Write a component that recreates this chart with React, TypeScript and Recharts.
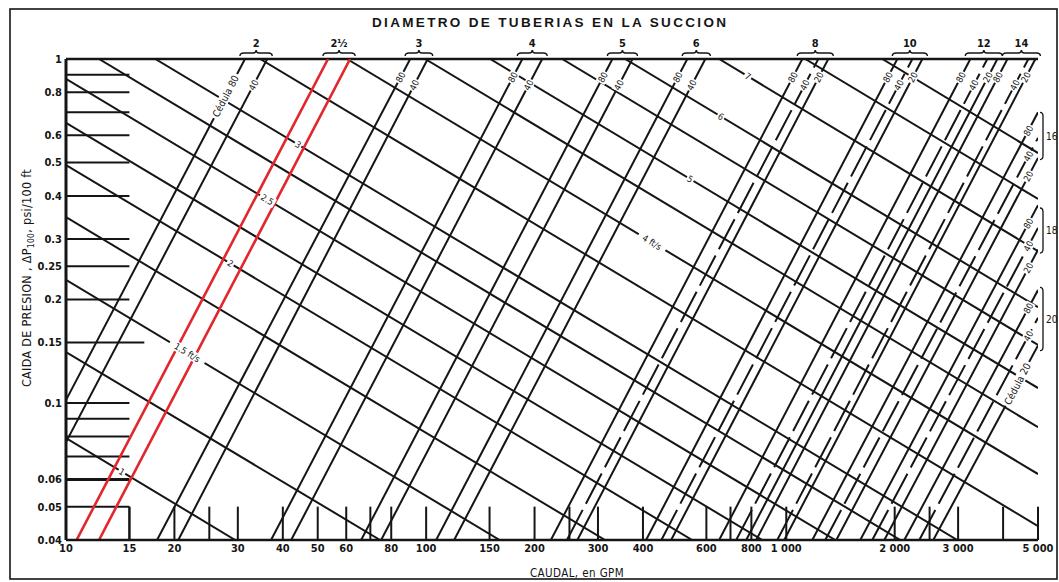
import { ComposedChart, Line, XAxis, YAxis, ReferenceLine, ReferenceDot } from 'recharts'

const ink = '#151515'
const red = '#e2262c'
const cond = "'DejaVu Sans Condensed', 'Liberation Sans Narrow', sans-serif"

const flowTicks = [10, 15, 20, 30, 40, 50, 60, 80, 100, 150, 200, 300, 400, 600, 800, 1000, 2000, 3000, 5000]
const dropTicks = [0.04, 0.05, 0.06, 0.1, 0.15, 0.2, 0.25, 0.3, 0.4, 0.5, 0.6, 0.8, 1]
const rowMarks = [0.9, 0.8, 0.7, 0.6, 0.5, 0.4, 0.3, 0.25, 0.2, 0.15, 0.1, 0.09, 0.08, 0.07, 0.06, 0.05]
const colMarks = [15, 20, 25, 30, 40, 50, 60, 70, 80, 100, 150, 200, 250, 300, 400, 600, 700, 800, 1000, 2000, 2500, 3000, 4000, 5000]

// constant diameter lines: size, schedule, upper end (gpm, psi), lower end (gpm, psi)
const pipeLines: [string, string, number, number, number, number][] = [
  ['2', '80', 31.4, 1, 10, 0.102],
  ['2', '40', 36.2, 1, 10, 0.077],
  ['2½', '80', 53.4, 1, 10.7, 0.04],
  ['2½', '40', 61.5, 1, 12.35, 0.04],
  ['3', '80', 90.3, 1, 17.9, 0.04],
  ['3', '40', 101, 1, 20.5, 0.04],
  ['4', '80', 185, 1, 37.1, 0.04],
  ['4', '40', 210, 1, 42.2, 0.04],
  ['5', '80', 329, 1, 66, 0.04],
  ['5', '40', 374, 1, 75, 0.04],
  ['6', '80', 531, 1, 106.6, 0.04],
  ['6', '40', 596, 1, 119.6, 0.04],
  ['8', '80', 1108, 1, 222, 0.04],
  ['8', '40', 1227, 1, 246, 0.04],
  ['8', '20', 1308, 1, 263, 0.04],
  ['10', '80', 2034, 1, 408, 0.04],
  ['10', '40', 2239, 1, 450, 0.04],
  ['10', '20', 2387, 1, 479, 0.04],
  ['12', '80', 3244, 1, 651, 0.04],
  ['12', '40', 3616, 1, 726, 0.04],
  ['12', '20', 3856, 1, 774, 0.04],
  ['14', '80', 4112, 1, 825, 0.04],
  ['14', '40', 4701, 1, 944, 0.04],
  ['14', '20', 4917, 1, 987, 0.04],
  ['16', '80', 5000, 0.7, 1181, 0.04],
  ['16', '40', 5000, 0.59, 1283, 0.04],
  ['16', '20', 5000, 0.516, 1377, 0.04],
  ['18', '80', 5000, 0.376, 1605, 0.04],
  ['18', '40', 5000, 0.323, 1733, 0.04],
  ['18', '20', 5000, 0.279, 1872, 0.04],
  ['20', '80', 5000, 0.213, 2127, 0.04],
  ['20', '40', 5000, 0.177, 2341, 0.04],
  ['20', '20', 5000, 0.147, 2560, 0.04],
]
const redSizes = ['2½']
const topSizes = ['2', '2½', '3', '4', '5', '6', '8', '10', '12', '14']
const sideSizes: [string, number, number][] = [
  ['16', 0.7, 0.51],
  ['18', 0.369, 0.273],
  ['20', 0.217, 0.142],
]

// constant velocity lines: ft/s, upper-left end, lower-right end
const speedLines: [string, number, number, number, number][] = [
  ['1', 10, 0.0791, 29.5, 0.04],
  ['1.25', 10, 0.1407, 74.5, 0.04],
  ['1.5', 10, 0.228, 160, 0.04],
  ['1.75', 10, 0.347, 314, 0.04],
  ['2', 10, 0.492, 548, 0.04],
  ['2.25', 10, 0.652, 858, 0.04],
  ['2.5', 10, 0.875, 1368, 0.04],
  ['2.75', 12.35, 1, 2073, 0.04],
  ['3', 17.7, 1, 2985, 0.04],
  ['3.5', 34.6, 1, 5000, 0.0439],
  ['4', 60.3, 1, 5000, 0.0622],
  ['4.5', 99.4, 1, 5000, 0.0851],
  ['5', 150.6, 1, 5000, 0.1106],
  ['5.5', 238.6, 1, 5000, 0.1475],
  ['6', 357, 1, 5000, 0.19],
  ['7', 651, 1, 5000, 0.2766],
  ['8', 1129, 1, 5000, 0.392],
  ['9', 1848, 1, 5000, 0.533],
]
// where the velocity tags sit (gpm along the line)
const speedTags: [string, number, string][] = [
  ['1', 14.3, '1'],
  ['1.5', 21.7, '1.5 ft/s'],
  ['2', 28.6, '2'],
  ['2.5', 36.2, '2.5'],
  ['3', 44.1, '3'],
  ['4', 424, '4 ft/s'],
  ['5', 541, '5'],
  ['6', 658, '6'],
  ['7', 782, '7'],
]

const lg = Math.log10

function alongDp(s: number[], p: number) {
  const [q1, p1, q2, p2] = s
  const t = (lg(p) - lg(p1)) / (lg(p2) - lg(p1))
  return { q: 10 ** (lg(q1) + t * (lg(q2) - lg(q1))), p }
}

function alongQ(s: number[], q: number) {
  const [q1, p1, q2, p2] = s
  const t = (lg(q) - lg(q1)) / (lg(q2) - lg(q1))
  return { q, p: 10 ** (lg(p1) + t * (lg(p2) - lg(p1))) }
}

function flowLabel(v: number) {
  return v >= 1000 ? `${Math.floor(v / 1000)} 000` : String(v)
}

function Tag({ cx, cy, text, angle, size = 9 }: any) {
  const w = text.length * size * 0.52 + 3
  return (
    <g transform={`translate(${cx},${cy}) rotate(${angle})`}>
      <rect x={-w / 2} y={-size * 0.55} width={w} height={size * 1.1} fill="#fff" />
      <text x={0} y={0} dy="0.36em" textAnchor="middle" fontSize={size} fontFamily={cond} fill={ink}>
        {text}
      </text>
    </g>
  )
}

function TopBrace({ x1, x2, y1, label }: any) {
  const a = Math.min(x1, x2) - 5
  const b = Math.max(x1, x2) + 5
  const c = (a + b) / 2
  const y = y1 - 6
  return (
    <g>
      <path
        d={`M${a},${y + 3} Q${a},${y} ${a + 4},${y} L${c - 3},${y} Q${c},${y} ${c},${y - 3} Q${c},${y} ${c + 3},${y} L${b - 4},${y} Q${b},${y} ${b},${y + 3}`}
        fill="none"
        stroke={ink}
        strokeWidth={1.4}
      />
      <text x={c} y={y - 6} textAnchor="middle" fontSize={11} fontWeight={700} fontFamily={cond} fill={ink}>
        {label}
      </text>
    </g>
  )
}

function SideBrace({ x1, y1, y2, label }: any) {
  const x = x1 + 5
  return (
    <g>
      <path
        d={`M${x - 3},${y1} Q${x},${y1} ${x},${y1 + 4} L${x},${y2 - 4} Q${x},${y2} ${x - 3},${y2}`}
        fill="none"
        stroke={ink}
        strokeWidth={1.3}
      />
      <text x={x + 3} y={(y1 + y2) / 2} dy="0.36em" fontSize={10} fontFamily={cond} fill={ink}>
        {label}
      </text>
    </g>
  )
}

function pipeTag(line: [string, string, number, number, number, number]) {
  const [size, sched, q1, p1, q2, p2] = line
  const seg = [q1, p1, q2, p2]
  if (redSizes.includes(size)) return null
  if (p1 < 1) {
    if (size === '20' && sched === '20') return { at: alongQ(seg, 4382), text: 'Cédula 20', size: 10 }
    return { at: alongQ(seg, 4700), text: sched, size: 9 }
  }
  if (size === '2' && sched === '80') return { at: alongDp(seg, 0.78), text: 'Cédula 80', size: 10 }
  return { at: alongDp(seg, sched === '40' ? 0.84 : 0.885), text: sched, size: 9 }
}

export default function App() {
  return (
    <div style={{ position: 'absolute', left: 0, top: 0, width: 1059, height: 582, background: '#fff' }}>
      <ComposedChart width={1059} height={582} margin={{ top: 59, right: 21, bottom: 12, left: 16 }}>
        <XAxis
          dataKey="q"
          type="number"
          scale="log"
          domain={[10, 5000]}
          allowDataOverflow
          ticks={flowTicks}
          tickFormatter={flowLabel}
          interval={0}
          height={30}
          tickSize={0}
          tickMargin={4}
          tickLine={false}
          axisLine={{ stroke: ink, strokeWidth: 2.5 }}
          tick={{ fontSize: 11, fontWeight: 700, fontFamily: cond, fill: ink }}
        />
        <YAxis
          dataKey="p"
          type="number"
          scale="log"
          domain={[0.04, 1]}
          allowDataOverflow
          ticks={dropTicks}
          interval={0}
          width={50}
          tickSize={0}
          tickMargin={4}
          tickLine={false}
          axisLine={{ stroke: ink, strokeWidth: 3 }}
          tick={{ fontSize: 11, fontWeight: 700, fontFamily: cond, fill: ink }}
        />
        <ReferenceLine y={1} stroke={ink} strokeWidth={2.5} />
        {rowMarks.map((v) => (
          <ReferenceLine
            key={`r${v}`}
            segment={[{ x: 10, y: v }, { x: v === 0.15 ? 16.5 : 15, y: v }]}
            stroke={ink}
            strokeWidth={v === 0.06 ? 3 : 2}
          />
        ))}
        {colMarks.map((v) => (
          <ReferenceLine
            key={`c${v}`}
            segment={[{ x: v, y: 0.04 }, { x: v, y: 0.05 }]}
            stroke={ink}
            strokeWidth={v === 15 ? 2.5 : 2}
          />
        ))}
        {speedLines.map(([v, q1, p1, q2, p2]) => (
          <Line
            key={`v${v}`}
            data={[{ q: q1, p: p1 }, { q: q2, p: p2 }]}
            dataKey="p"
            type="linear"
            stroke={ink}
            strokeWidth={2}
            dot={false}
            isAnimationActive={false}
          />
        ))}
        {pipeLines.map(([size, sched, q1, p1, q2, p2]) => {
          const isRed = redSizes.includes(size)
          const broken = sched === '40' && Number(size) >= 8
          return (
            <Line
              key={`d${size}-${sched}`}
              data={[{ q: q2, p: p2 }, { q: q1, p: p1 }]}
              dataKey="p"
              type="linear"
              stroke={isRed ? red : ink}
              strokeWidth={isRed ? 2.6 : 2}
              strokeDasharray={broken ? '34 7' : undefined}
              dot={false}
              isAnimationActive={false}
            />
          )
        })}
        {topSizes.map((s) => {
          const qs = pipeLines.filter((l) => l[0] === s).map((l) => l[2])
          return (
            <ReferenceLine
              key={`b${s}`}
              segment={[{ x: Math.min(...qs), y: 1 }, { x: Math.max(...qs), y: 1 }]}
              ifOverflow="visible"
              shape={(pp: any) => <TopBrace {...pp} label={s} />}
            />
          )
        })}
        {sideSizes.map(([s, a, b]) => (
          <ReferenceLine
            key={`s${s}`}
            segment={[{ x: 5000, y: a }, { x: 5000, y: b }]}
            ifOverflow="visible"
            shape={(pp: any) => <SideBrace {...pp} label={s} />}
          />
        ))}
        {pipeLines.map((line) => {
          const t = pipeTag(line)
          if (!t) return null
          return (
            <ReferenceDot
              key={`t${line[0]}-${line[1]}`}
              x={t.at.q}
              y={t.at.p}
              r={0}
              ifOverflow="visible"
              shape={(pp: any) => <Tag cx={pp.cx} cy={pp.cy} text={t.text} angle={-62.4} size={t.size} />}
            />
          )
        })}
        {speedTags.map(([v, q, text]) => {
          const l = speedLines.find((s) => s[0] === v)!
          const at = alongQ([l[1], l[2], l[3], l[4]], q)
          return (
            <ReferenceDot
              key={`vt${v}`}
              x={at.q}
              y={at.p}
              r={0}
              ifOverflow="visible"
              shape={(pp: any) => <Tag cx={pp.cx} cy={pp.cy} text={text} angle={31} size={9} />}
            />
          )
        })}
      </ComposedChart>
      <svg width={1059} height={582} style={{ position: 'absolute', left: 0, top: 0, pointerEvents: 'none' }}>
        <rect x={10} y={9} width={1047} height={570} fill="none" stroke={ink} strokeWidth={1.6} />
        <text
          x={372}
          y={27}
          textLength={354}
          lengthAdjust="spacing"
          fontSize={13.5}
          fontWeight={700}
          fontFamily="'Liberation Sans', Arial, sans-serif"
          fill={ink}
        >
          DIAMETRO DE TUBERIAS EN LA SUCCION
        </text>
        <text
          transform="translate(31,278) rotate(-90)"
          textAnchor="middle"
          fontSize={12.5}
          fontFamily={cond}
          fill={ink}
          letterSpacing={0.3}
        >
          CAIDA DE PRESION ,  ΔP<tspan fontSize={8.5} dy={3}>100</tspan>
          <tspan dy={-3}>, psi/100 ft</tspan>
        </text>
        <text x={577} y={577} textAnchor="middle" fontSize={11.5} fontFamily={cond} fill={ink} letterSpacing={0.4}>
          CAUDAL, en GPM
        </text>
      </svg>
    </div>
  )
}
